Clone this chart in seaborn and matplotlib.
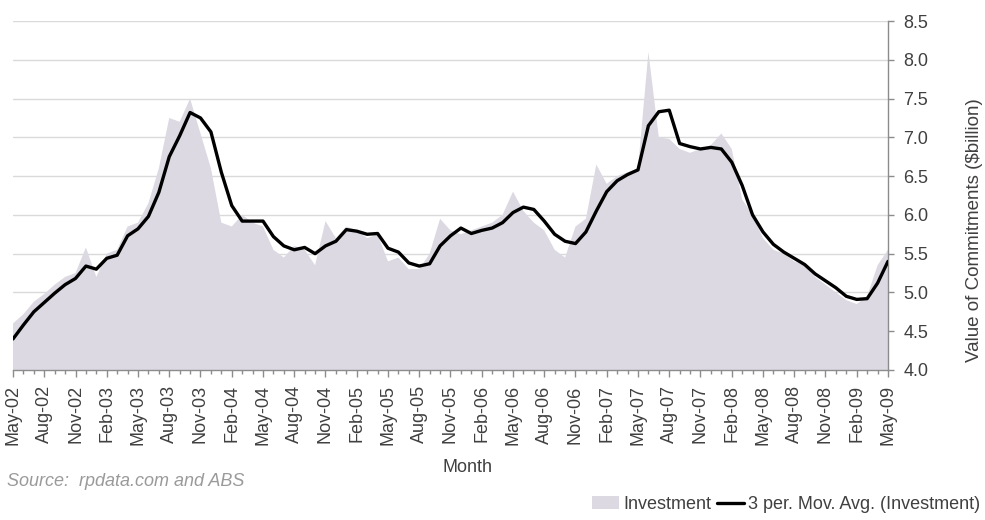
import numpy as np
import pandas as pd
import matplotlib
matplotlib.use("Agg")
import matplotlib.pyplot as plt
import seaborn as sns
from matplotlib.patches import Patch
from matplotlib.lines import Line2D

# monthly data, May-02 .. May-09
months = pd.date_range("2002-05-01", periods=85, freq="MS")
month_labels = [m.strftime("%b-%y") for m in months]

investment = [
    4.60, 4.72, 4.88, 4.98, 5.10, 5.20, 5.25, 5.58, 5.20, 5.50,
    5.55, 5.85, 5.90, 6.15, 6.60, 7.25, 7.20, 7.50, 7.05, 6.60,
    5.90, 5.85, 6.00, 5.90, 5.85, 5.55, 5.45, 5.60, 5.55, 5.35,
    5.92, 5.70, 5.85, 5.80, 5.70, 5.75, 5.40, 5.45, 5.30, 5.30,
    5.50, 5.95, 5.80, 5.75, 5.80, 5.85, 5.90, 6.00, 6.30, 6.05,
    5.90, 5.80, 5.55, 5.45, 5.85, 5.95, 6.65, 6.40, 6.50, 6.55,
    6.60, 8.10, 7.00, 6.98, 6.85, 6.80, 6.85, 6.90, 7.05, 6.85,
    6.20, 6.00, 5.70, 5.55, 5.50, 5.40, 5.35, 5.20, 5.10, 5.00,
    4.90, 4.85, 4.95, 5.35, 5.55,
]

mov_avg = [
    4.40, 4.58, 4.75, 4.87, 4.99, 5.10, 5.18, 5.34, 5.30, 5.44,
    5.48, 5.73, 5.82, 5.98, 6.29, 6.75, 7.02, 7.32, 7.25, 7.07,
    6.55, 6.12, 5.92, 5.92, 5.92, 5.72, 5.60, 5.55, 5.58, 5.50,
    5.60, 5.66, 5.81, 5.79, 5.75, 5.76, 5.57, 5.52, 5.38, 5.34,
    5.37, 5.60, 5.73, 5.83, 5.76, 5.80, 5.83, 5.90, 6.03, 6.10,
    6.07, 5.92, 5.75, 5.66, 5.63, 5.78, 6.05, 6.30, 6.44, 6.52,
    6.58, 7.15, 7.33, 7.35, 6.92, 6.88, 6.85, 6.87, 6.85, 6.68,
    6.38, 6.00, 5.78, 5.62, 5.52, 5.44, 5.36, 5.24, 5.15, 5.06,
    4.95, 4.91, 4.92, 5.12, 5.40,
]

y_ticks = [4.0, 4.5, 5.0, 5.5, 6.0, 6.5, 7.0, 7.5, 8.0, 8.5]

df = pd.DataFrame({"idx": np.arange(len(months)), "investment": investment, "mov_avg": mov_avg})

sns.set_theme(style="white")
plt.rcParams["font.family"] = ["Liberation Sans", "DejaVu Sans"]

area_col = "#dcd9e2"
grey = "#8c8c8c"
txt = "#404040"

fig = plt.figure(figsize=(9.85, 5.2), dpi=100)
ax = fig.add_axes([0.0132, 0.2885, 0.8883, 0.6711])

ax.fill_between(df["idx"], 0, df["investment"], color=area_col, lw=0, zorder=2)
sns.lineplot(data=df, x="idx", y="mov_avg", color="black", lw=2.4, ax=ax, zorder=3)

ax.set_xlim(0, 84)
ax.set_ylim(4.0, 8.5)
ax.grid(axis="y", color="#dadada", lw=1)
ax.set_axisbelow(True)

# y axis on the right
ax.yaxis.tick_right()
ax.set_yticks(y_ticks)
ax.set_yticklabels([f"{v:.1f}" for v in y_ticks])
ax.tick_params(axis="y", length=4, width=1, color=grey, pad=7, labelsize=13, labelcolor=txt, right=True, left=False)
ax.set_ylabel("Value of Commitments ($billion)", fontsize=13.5, color=txt, rotation=90)
ax.yaxis.set_label_position("right")
ax.yaxis.set_label_coords(1.089, 0.40)

# x axis: minor tick every month, label every quarter
ax.set_xticks(df["idx"][::3])
ax.set_xticklabels(month_labels[::3])
ax.set_xticks(df["idx"], minor=True)
ax.tick_params(axis="x", which="major", length=5, width=1, color=grey, pad=6,
               labelsize=13, labelcolor=txt, labelrotation=90, bottom=True)
ax.tick_params(axis="x", which="minor", length=3, width=1, color=grey, bottom=True)
ax.set_xlabel("")

for s in ["top", "left"]:
    ax.spines[s].set_visible(False)
for s in ["right", "bottom"]:
    ax.spines[s].set_color(grey)
    ax.spines[s].set_linewidth(1)

fig.text(468 / 985, 1 - 468 / 520, "Month", fontsize=13, color=txt, ha="center", va="center")
fig.text(0.007, 1 - 482 / 520, "Source:  rpdata.com and ABS", fontsize=13, color="#9a9a9a",
         style="italic", ha="left", va="center")

handles = [Patch(facecolor=area_col, edgecolor="none"),
           Line2D([0], [0], color="black", lw=2.4)]
fig.legend(handles, ["Investment", "3 per. Mov. Avg. (Investment)"], loc="lower right",
           bbox_to_anchor=(1.012, -0.018), ncol=2, frameon=False, fontsize=13,
           labelcolor=txt, handlelength=1.5, handletextpad=0.25, columnspacing=0.3)

fig.savefig("out.png", dpi=100)
